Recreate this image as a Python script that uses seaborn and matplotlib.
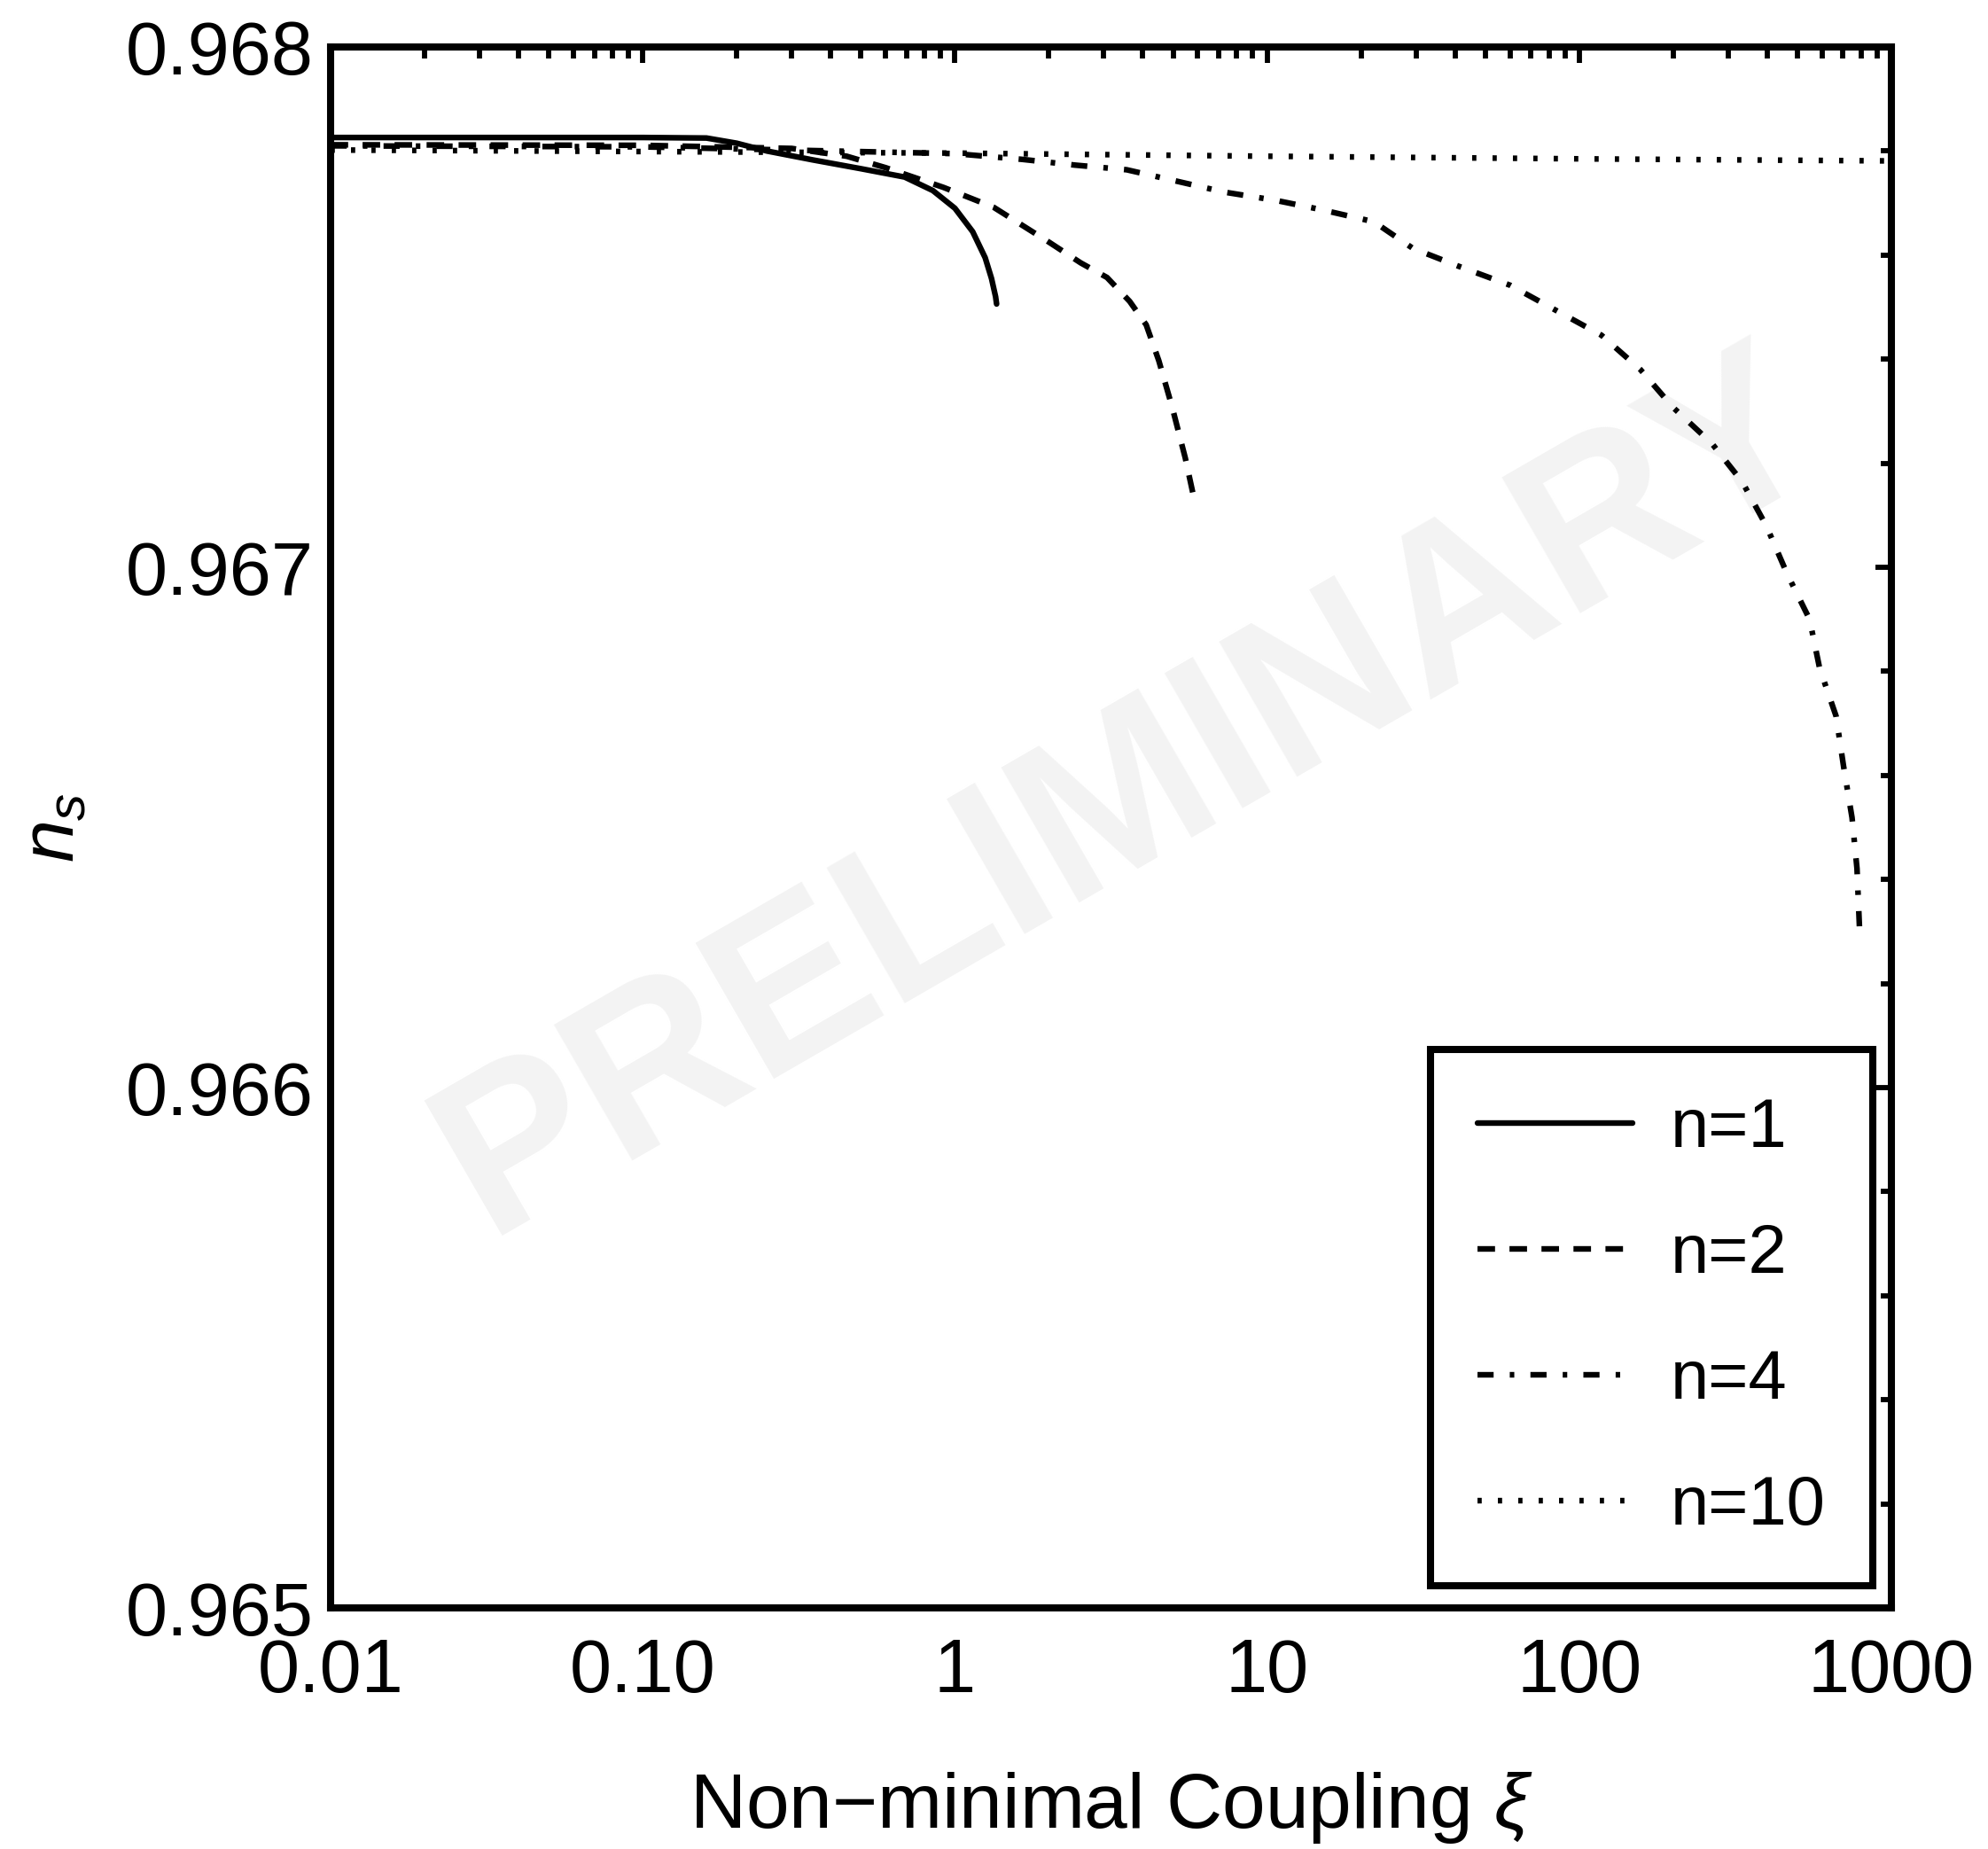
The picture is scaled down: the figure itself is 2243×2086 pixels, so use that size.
import numpy as np
import pandas as pd
import matplotlib
matplotlib.use("Agg")
import matplotlib.pyplot as plt
from matplotlib.ticker import MultipleLocator, LogLocator, NullFormatter, FixedLocator, FixedFormatter
import seaborn as sns

# ---------------- data ----------------
xi_n1 = [0.01, 0.03, 0.10, 0.16, 0.20, 0.25, 0.35, 0.50, 0.69, 0.85, 1.00, 1.14, 1.25, 1.31, 1.35, 1.36]
ns_n1 = [0.967826, 0.967826, 0.967826, 0.967825, 0.967815, 0.967800, 0.967783, 0.967766,
         0.967750, 0.967724, 0.967690, 0.967645, 0.967595, 0.967555, 0.967520, 0.967506]

xi_n2 = [0.01, 0.10, 0.30, 0.45, 0.60, 0.92, 1.33, 2.00, 2.53, 3.07, 3.63, 4.10, 4.50, 4.97, 5.47, 5.87]
ns_n2 = [0.967812, 0.967811, 0.967805, 0.967790, 0.967768, 0.967730, 0.967692, 0.967625,
         0.967585, 0.967557, 0.967511, 0.967466, 0.967397, 0.967307, 0.967210, 0.967125]

xi_n4 = [0.01, 0.10, 1.00, 1.64, 2.42, 3.55, 4.97, 7.30, 10.7, 15.0, 22.0, 29.3, 40.9, 60.1,
         84.1, 117.8, 157, 200, 266, 333, 398, 463, 547, 589, 665, 703, 748, 776, 790]
ns_n4 = [0.967810, 0.967808, 0.967795, 0.967784, 0.967773, 0.967764, 0.967744, 0.967721,
         0.967705, 0.967687, 0.967664, 0.967613, 0.967579, 0.967542, 0.967494, 0.967446,
         0.967380, 0.967307, 0.967238, 0.967164, 0.967079, 0.966988, 0.966900, 0.966806,
         0.966714, 0.966617, 0.966519, 0.966421, 0.966310]

xi_n10 = [0.01, 1.0, 10.0, 100.0, 1000.0]
ns_n10 = [0.967802, 0.967796, 0.967790, 0.967785, 0.967781]

series_labels = ["n=1", "n=2", "n=4", "n=10"]
x_tick_values = [0.01, 0.1, 1, 10, 100, 1000]
x_tick_labels = ["0.01", "0.10", "1", "10", "100", "1000"]
y_tick_values = [0.965, 0.966, 0.967, 0.968]
y_tick_labels = ["0.965", "0.966", "0.967", "0.968"]

# ---------------- style ----------------
sns.set_style("white")
plt.rcParams["font.family"] = ["Liberation Sans", "DejaVu Sans"]
plt.rcParams["mathtext.fontset"] = "custom"
plt.rcParams["mathtext.it"] = "Liberation Sans:italic"
plt.rcParams["mathtext.rm"] = "Liberation Sans"
plt.rcParams["text.color"] = "black"
plt.rcParams["axes.labelcolor"] = "black"
plt.rcParams["xtick.color"] = "black"
plt.rcParams["ytick.color"] = "black"
plt.rcParams["xtick.labelcolor"] = "black"
plt.rcParams["ytick.labelcolor"] = "black"

fig = plt.figure(figsize=(22.43, 20.86), dpi=100)
ax = fig.add_axes([0.1663, 0.1304, 0.7851, 0.8442])
ax.set_xscale("log")

lw = 4.6
styles = [
    "-",
    (0, (3.1, 2.55)),
    (0, (2.85, 2.85, 0.8, 2.85)),
    (0, (0.75, 2.85)),
]
datasets = [(xi_n1, ns_n1), (xi_n2, ns_n2), (xi_n4, ns_n4), (xi_n10, ns_n10)]

for (xs, ys), lab, ls in zip(datasets, series_labels, styles):
    df = pd.DataFrame({"xi": xs, "ns": ys})
    sns.lineplot(data=df, x="xi", y="ns", ax=ax, color="black", lw=lw,
                 linestyle=ls, label=lab, estimator=None, errorbar=None, zorder=3)

# watermark
ax.text(0.512, 0.52, "PRELIMINARY", transform=ax.transAxes, rotation=30,
        ha="center", va="center", fontsize=184, fontweight="bold",
        color="#f3f3f3", zorder=0)

ax.set_xlim(0.01, 1000)
ax.set_ylim(0.965, 0.968)

ax.xaxis.set_major_locator(FixedLocator(x_tick_values))
ax.xaxis.set_major_formatter(FixedFormatter(x_tick_labels))
ax.xaxis.set_minor_locator(LogLocator(base=10, subs=np.arange(2, 10), numticks=50))
ax.xaxis.set_minor_formatter(NullFormatter())
ax.yaxis.set_major_locator(FixedLocator(y_tick_values))
ax.yaxis.set_major_formatter(FixedFormatter(y_tick_labels))
ax.yaxis.set_minor_locator(MultipleLocator(0.0002))

ax.tick_params(which="both", direction="in", top=True, right=True,
               color="black", labelcolor="black", width=4.2)
ax.tick_params(which="major", length=13)
ax.tick_params(which="minor", length=9)
ax.tick_params(axis="x", which="major", labelsize=61, pad=24)
ax.tick_params(axis="y", which="major", labelsize=61, pad=14)

for sp in ax.spines.values():
    sp.set_visible(True)
    sp.set_linewidth(5.8)
    sp.set_color("black")
    sp.set_zorder(5)

ax.set_xlabel("Non\u2212minimal Coupling $\\xi$", fontsize=63, color="black")
ax.xaxis.set_label_coords(0.5, -0.104)
ax.set_ylabel("$n_s$", fontsize=62, color="black")
ax.yaxis.set_label_coords(-0.1545, 0.5)

leg = ax.legend(loc="lower right", bbox_to_anchor=(0.988, 0.014), borderaxespad=0,
                fontsize=56, handlelength=2.26, handletextpad=0.55, labelspacing=0.89,
                borderpad=0.68, fancybox=False, framealpha=1, facecolor="white",
                edgecolor="black")
leg.get_frame().set_linewidth(5.8)
leg.set_zorder(6)
for t in leg.get_texts():
    t.set_color("black")

fig.savefig("out.png", dpi=100)
